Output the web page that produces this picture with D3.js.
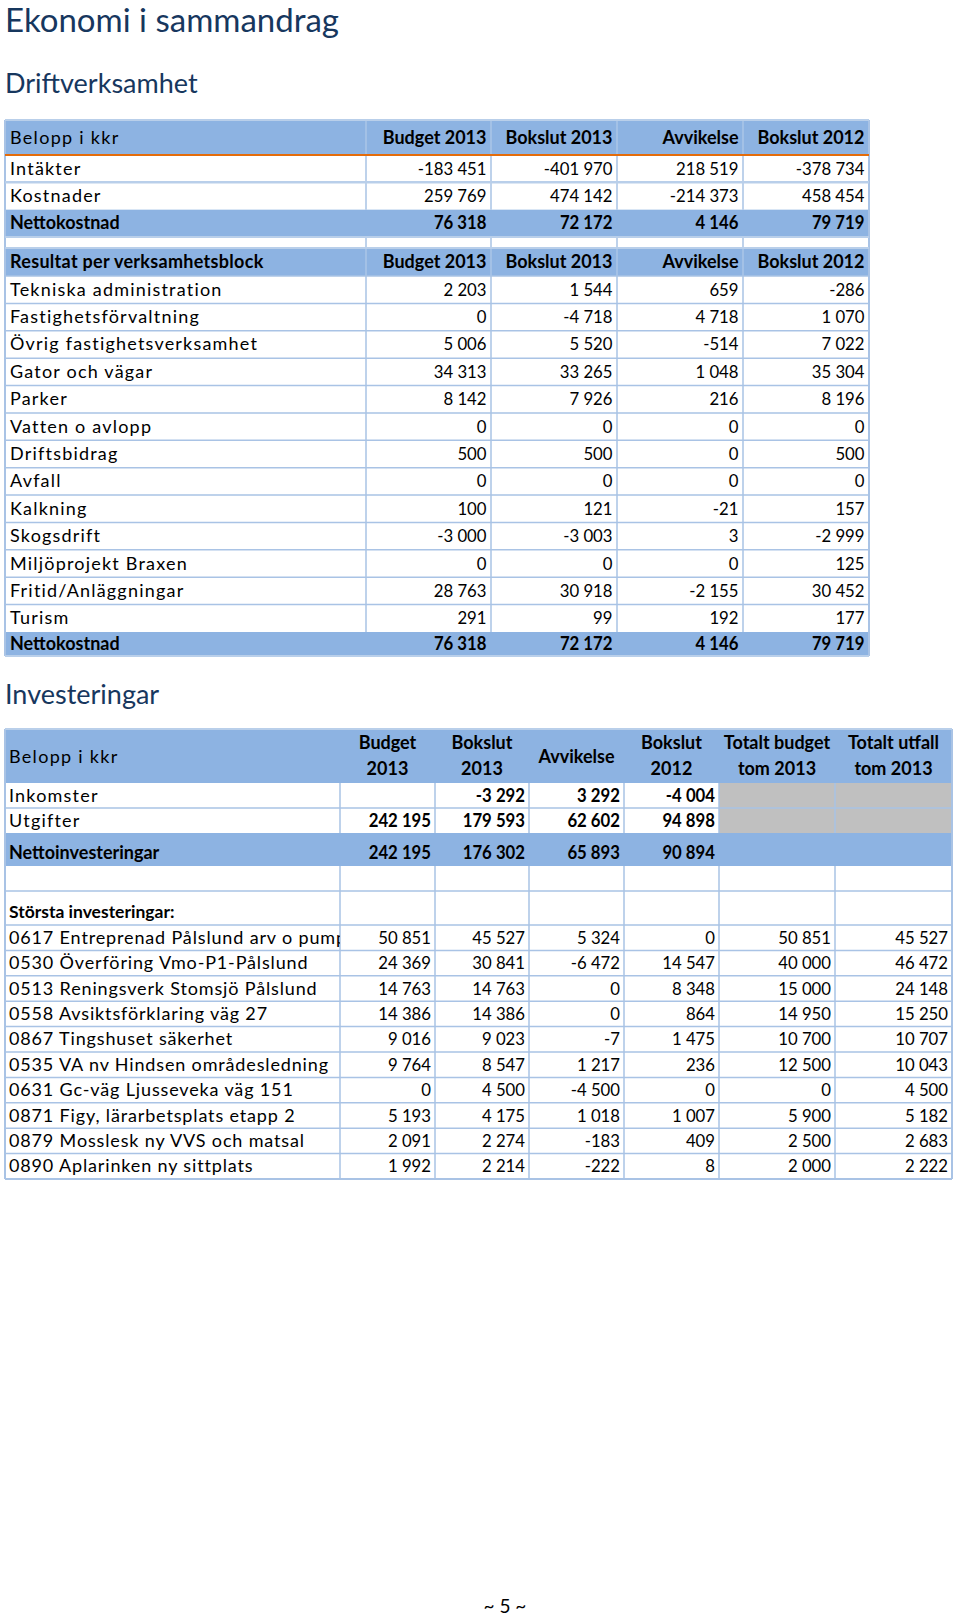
<!DOCTYPE html>
<html><head><meta charset="utf-8">
<script src="https://cdn.jsdelivr.net/npm/d3@7"></script>
<style>
html,body{margin:0;padding:0;background:#fff;}
svg{display:block;}
</style></head><body>
<svg id="c" width="960" height="1617"></svg>
<script>
// ---------- DATA ----------
const pageTitle = "Ekonomi i sammandrag";
const section1Title = "Driftverksamhet";
const section2Title = "Investeringar";
const pageNumber = "~ 5 ~";

const headerLabel = "Belopp i kkr";
const driftColumns = ["Budget 2013", "Bokslut 2013", "Avvikelse", "Bokslut 2012"];
const summaryLabels = ["Intäkter", "Kostnader", "Nettokostnad"];
const summaryBudget2013 = [-183451, 259769, 76318];
const summaryBokslut2013 = [-401970, 474142, 72172];
const summaryAvvikelse = [218519, -214373, 4146];
const summaryBokslut2012 = [-378734, 458454, 79719];

const blockHeader = "Resultat per verksamhetsblock";
const blockLabels = ["Tekniska administration", "Fastighetsförvaltning", "Övrig fastighetsverksamhet",
  "Gator och vägar", "Parker", "Vatten o avlopp", "Driftsbidrag", "Avfall", "Kalkning",
  "Skogsdrift", "Miljöprojekt Braxen", "Fritid/Anläggningar", "Turism"];
const blockBudget2013 = [2203, 0, 5006, 34313, 8142, 0, 500, 0, 100, -3000, 0, 28763, 291];
const blockBokslut2013 = [1544, -4718, 5520, 33265, 7926, 0, 500, 0, 121, -3003, 0, 30918, 99];
const blockAvvikelse = [659, 4718, -514, 1048, 216, 0, 0, 0, -21, 3, 0, -2155, 192];
const blockBokslut2012 = [-286, 1070, 7022, 35304, 8196, 0, 500, 0, 157, -2999, 125, 30452, 177];
const blockTotalLabel = "Nettokostnad";
const blockTotal = [76318, 72172, 4146, 79719];

const invColumns = [["Budget", "2013"], ["Bokslut", "2013"], ["Avvikelse"], ["Bokslut", "2012"],
  ["Totalt budget", "tom 2013"], ["Totalt utfall", "tom 2013"]];
const invLabels = ["Inkomster", "Utgifter"];
const invBudget2013 = [null, 242195];
const invBokslut2013 = [-3292, 179593];
const invAvvikelse = [3292, 62602];
const invBokslut2012 = [-4004, 94898];
const netInvLabel = "Nettoinvesteringar";
const netInvValues = [242195, 176302, 65893, 90894];

const projectHeader = "Största investeringar:";
const projectLabels = ["0617 Entreprenad Pålslund arv o pumps", "0530 Överföring Vmo-P1-Pålslund",
  "0513 Reningsverk Stomsjö Pålslund", "0558 Avsiktsförklaring väg 27", "0867 Tingshuset säkerhet",
  "0535 VA nv Hindsen områdesledning", "0631 Gc-väg Ljusseveka väg 151",
  "0871 Figy, lärarbetsplats etapp 2", "0879 Mosslesk ny VVS och matsal", "0890 Aplarinken ny sittplats"];
const projBudget2013 = [50851, 24369, 14763, 14386, 9016, 9764, 0, 5193, 2091, 1992];
const projBokslut2013 = [45527, 30841, 14763, 14386, 9023, 8547, 4500, 4175, 2274, 2214];
const projAvvikelse = [5324, -6472, 0, 0, -7, 1217, -4500, 1018, -183, -222];
const projBokslut2012 = [0, 14547, 8348, 864, 1475, 236, 0, 1007, 409, 8];
const projTotaltBudget = [50851, 40000, 15000, 14950, 10700, 12500, 0, 5900, 2500, 2000];
const projTotaltUtfall = [45527, 46472, 24148, 15250, 10707, 10043, 4500, 5182, 2683, 2222];

// ---------- STYLE ----------
const FONT = "Lato, 'Open Sans', sans-serif";
const BLUE = "#8db3e2";
const GRID = "#a9c3e5";
const GRID_LIGHT = "#b9cfea";
const ORANGE = "#e46c0a";
const TITLE = "#17375e";
const FS = 18;
const NUM_SX = 0.93;

const loc = d3.formatLocale({decimal: ",", thousands: " ", grouping: [3], currency: ["", ""], minus: "-"});
const fmt = loc.format(",d");

const svg = d3.select("#c");
svg.append("rect").attr("width", 960).attr("height", 1617).attr("fill", "#fff");

function label(g, x, y, s, bold, ls, fs) {
  return g.append("text").attr("x", x).attr("y", y).text(s)
    .attr("font-family", FONT).attr("font-size", fs || FS)
    .attr("font-weight", bold ? 700 : 400)
    .attr("letter-spacing", ls == null ? (bold ? 0 : 1.2) : ls)
    .attr("fill", "#000");
}
function num(g, xr, y, v, bold) {
  if (v == null) return;
  g.append("text").attr("transform", `translate(${xr},${y}) scale(${NUM_SX},1)`)
    .attr("text-anchor", "end").text(typeof v === "number" ? fmt(v) : v)
    .attr("font-family", FONT).attr("font-size", FS)
    .attr("font-weight", bold ? 700 : 400).attr("fill", "#000");
}
function hline(g, x1, x2, y, c, w) {
  g.append("line").attr("x1", x1).attr("x2", x2).attr("y1", y).attr("y2", y)
    .attr("stroke", c).attr("stroke-width", w);
}
function vline(g, x, y1, y2, c, w) {
  g.append("line").attr("x1", x).attr("x2", x).attr("y1", y1).attr("y2", y2)
    .attr("stroke", c).attr("stroke-width", w);
}

// ---------- TITLES ----------
svg.append("text").attr("x", 5).attr("y", 32).text(pageTitle)
  .attr("font-family", FONT).attr("font-size", 33).attr("fill", TITLE);
svg.append("text").attr("x", 5).attr("y", 93).text(section1Title)
  .attr("font-family", FONT).attr("font-size", 27).attr("fill", TITLE);
svg.append("text").attr("x", 5).attr("y", 704).text(section2Title)
  .attr("font-family", FONT).attr("font-size", 27).attr("fill", TITLE);
svg.append("text").attr("x", 505).attr("y", 1613).attr("text-anchor", "middle").text(pageNumber)
  .attr("font-family", FONT).attr("font-size", 19).attr("fill", "#000");

// ---------- TABLE 1 ----------
const t1 = svg.append("g");
const t1Keys = ["label", ...driftColumns, "end"];
const t1x = d3.scaleOrdinal().domain(t1Keys).range([5, 366, 491, 617, 743, 869]);
const t1Right = i => t1x(t1Keys[i + 2]) - 4.5; // right edge of value column i
const t1Left = t1x("label"), t1End = t1x("end");

const hdr1 = {top: 120, bottom: 155};
const ySum = d3.scaleBand().domain(summaryLabels).range([155, 237]);
const blank1 = {top: 237, bottom: 248};
const hdr2 = {top: 248, bottom: 276};
const yBlock = d3.scaleBand().domain(blockLabels).range([276, 632]);
const tot1 = {top: 632, bottom: 656};

// backgrounds
t1.append("rect").attr("x", t1Left).attr("width", t1End - t1Left).attr("y", hdr1.top).attr("height", hdr1.bottom - hdr1.top).attr("fill", BLUE);
t1.append("rect").attr("x", t1Left).attr("width", t1End - t1Left).attr("y", ySum("Nettokostnad")).attr("height", ySum.bandwidth()).attr("fill", BLUE);
t1.append("rect").attr("x", t1Left).attr("width", t1End - t1Left).attr("y", hdr2.top).attr("height", hdr2.bottom - hdr2.top).attr("fill", BLUE);
t1.append("rect").attr("x", t1Left).attr("width", t1End - t1Left).attr("y", tot1.top).attr("height", tot1.bottom - tot1.top).attr("fill", BLUE);

// grid
const innerX1 = t1Keys.slice(1, 5).map(k => t1x(k));
innerX1.forEach(x => {
  vline(t1, x, hdr1.top, hdr1.bottom, GRID_LIGHT, 1);
  vline(t1, x, ySum.range()[0], ySum("Nettokostnad"), GRID, 1.5);
  vline(t1, x, blank1.top, blank1.bottom, GRID, 1.5);
  vline(t1, x, hdr2.top, hdr2.bottom, GRID_LIGHT, 1);
  vline(t1, x, yBlock.range()[0], yBlock.range()[1], GRID, 1.5);
});
vline(t1, t1Left, hdr1.top, tot1.bottom, GRID, 2);
vline(t1, t1End, hdr1.top, tot1.bottom, GRID, 2);
hline(t1, t1Left, t1End, hdr1.top, GRID_LIGHT, 2);
hline(t1, t1Left, t1End, ySum("Kostnader"), GRID_LIGHT, 2.5);
hline(t1, t1Left, t1End, blank1.top, GRID_LIGHT, 2);
hline(t1, t1Left, t1End, blank1.bottom, GRID_LIGHT, 2);
blockLabels.forEach(l => hline(t1, t1Left, t1End, yBlock(l), GRID, 1.5));
hline(t1, t1Left, t1End, tot1.bottom, GRID_LIGHT, 2);
hline(t1, t1Left, t1End, hdr1.bottom, ORANGE, 2);

// header 1
const base = (top, h) => top + h / 2 + 6;
label(t1, 10, base(hdr1.top, hdr1.bottom - hdr1.top), headerLabel, false, 1.3);
driftColumns.forEach((c, i) => label(t1, t1Right(i), base(hdr1.top, hdr1.bottom - hdr1.top), c, true).attr("text-anchor", "end"));

// summary rows
const sumSeries = [summaryBudget2013, summaryBokslut2013, summaryAvvikelse, summaryBokslut2012];
summaryLabels.forEach((l, r) => {
  const bold = l === "Nettokostnad";
  const y = base(ySum(l), ySum.bandwidth());
  label(t1, 10, y, l, bold);
  sumSeries.forEach((s, i) => num(t1, t1Right(i), y, s[r], bold));
});

// header 2
label(t1, 10, base(hdr2.top, hdr2.bottom - hdr2.top), blockHeader, true, 0.3);
driftColumns.forEach((c, i) => label(t1, t1Right(i), base(hdr2.top, hdr2.bottom - hdr2.top), c, true).attr("text-anchor", "end"));

// block rows
const blockSeries = [blockBudget2013, blockBokslut2013, blockAvvikelse, blockBokslut2012];
blockLabels.forEach((l, r) => {
  const y = base(yBlock(l), yBlock.bandwidth());
  label(t1, 10, y, l, false);
  blockSeries.forEach((s, i) => num(t1, t1Right(i), y, s[r], false));
});
// total
{
  const y = base(tot1.top, tot1.bottom - tot1.top);
  label(t1, 10, y, blockTotalLabel, true);
  blockTotal.forEach((v, i) => num(t1, t1Right(i), y, v, true));
}

// ---------- TABLE 2 ----------
const t2 = svg.append("g");
const t2Keys = ["label", "c0", "c1", "c2", "c3", "c4", "c5", "end"];
const t2x = d3.scaleOrdinal().domain(t2Keys).range([5, 340, 435, 529, 624, 719, 835, 952]);
const t2L = i => t2x(t2Keys[i + 1]);
const t2R = i => t2x(t2Keys[i + 2]);
const t2Left = t2x("label"), t2End = t2x("end");

const hdrI = {top: 729, bottom: 783};
const yInv = d3.scaleBand().domain(invLabels).range([783, 833]);
const netI = {top: 833, bottom: 866};
const blankI = {top: 866, bottom: 891};
const storI = {top: 891, bottom: 925};
const yProj = d3.scaleBand().domain(projectLabels).range([925, 1179]);

// backgrounds
t2.append("rect").attr("x", t2Left).attr("width", t2End - t2Left).attr("y", hdrI.top).attr("height", hdrI.bottom - hdrI.top).attr("fill", BLUE);
t2.append("rect").attr("x", t2Left).attr("width", t2End - t2Left).attr("y", netI.top).attr("height", netI.bottom - netI.top).attr("fill", BLUE);
invLabels.forEach(l => {
  [4, 5].forEach(i => t2.append("rect").attr("x", t2L(i)).attr("width", t2R(i) - t2L(i))
    .attr("y", yInv(l)).attr("height", yInv.bandwidth()).attr("fill", "#c0c0c0"));
});

// grid
const innerX2 = t2Keys.slice(1, 7).map(k => t2x(k));
innerX2.forEach(x => {
  vline(t2, x, yInv.range()[0], yInv.range()[1], GRID, 1.5);
  vline(t2, x, blankI.top, yProj.range()[1], GRID, 1.5);
});
vline(t2, t2Left, hdrI.top, yProj.range()[1], GRID, 2);
vline(t2, t2End, hdrI.top, yProj.range()[1], GRID, 2);
hline(t2, t2Left, t2End, hdrI.top, GRID_LIGHT, 2);
hline(t2, t2Left, t2End, yInv("Utgifter"), GRID, 1.5);
hline(t2, t2Left, t2End, blankI.bottom, GRID, 1.5);
projectLabels.forEach(l => hline(t2, t2Left, t2End, yProj(l), GRID, 1.5));
hline(t2, t2Left, t2End, yProj.range()[1], GRID, 2);

// header
label(t2, 9, hdrI.top + 34, headerLabel, false, 1.3);
invColumns.forEach((lines, i) => {
  const cx = (t2L(i) + t2R(i)) / 2;
  if (lines.length === 1) {
    label(t2, cx, hdrI.top + 34, lines[0], true).attr("text-anchor", "middle");
  } else {
    label(t2, cx, hdrI.top + 20, lines[0], true).attr("text-anchor", "middle");
    label(t2, cx, hdrI.top + 46, lines[1], true).attr("text-anchor", "middle");
  }
});

// inv rows
const invSeries = [invBudget2013, invBokslut2013, invAvvikelse, invBokslut2012];
invLabels.forEach((l, r) => {
  const y = base(yInv(l), yInv.bandwidth());
  label(t2, 9, y, l, false);
  invSeries.forEach((s, i) => num(t2, t2R(i) - 4, y, s[r], true));
});
{
  const y = netI.bottom - 7;
  label(t2, 9, y, netInvLabel, true);
  netInvValues.forEach((v, i) => num(t2, t2R(i) - 4, y, v, true));
}
label(t2, 9, storI.bottom - 7, projectHeader, true, 0, 17.5);

// project rows
const clip = svg.append("defs").append("clipPath").attr("id", "lc");
clip.append("rect").attr("x", t2Left).attr("y", 0).attr("width", t2x("c0") - t2Left).attr("height", 1617);
const projSeries = [projBudget2013, projBokslut2013, projAvvikelse, projBokslut2012, projTotaltBudget, projTotaltUtfall];
projectLabels.forEach((l, r) => {
  const y = base(yProj(l), yProj.bandwidth());
  label(t2, 9, y, l, false, 0.85).attr("clip-path", "url(#lc)");
  projSeries.forEach((s, i) => num(t2, t2R(i) - 4, y, s[r], false));
});
</script>
</body></html>
